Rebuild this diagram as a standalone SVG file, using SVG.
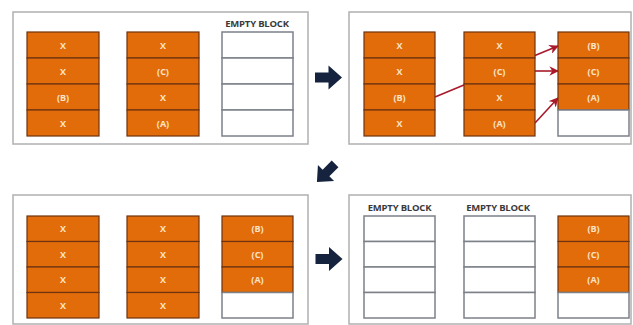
<svg xmlns="http://www.w3.org/2000/svg" width="633" height="325" viewBox="0 0 633 325">
<style>
.panel{fill:#fff;stroke:#b0b0b0;stroke-width:1.5}
.o{fill:#e36c0a;stroke:#6e3310;stroke-width:1.2}
.e{fill:#fff;stroke:#7c8088;stroke-width:1.5}
.t{font-family:"Open Sans","Liberation Sans",sans-serif;font-weight:bold;font-size:9px;fill:#fbe3c6;text-anchor:middle}
.lbl{font-family:"Open Sans","Liberation Sans",sans-serif;font-weight:bold;font-size:9.5px;fill:#3a3a3a;text-anchor:middle;letter-spacing:-0.2px}
.nav{fill:#15233f}
.red{stroke:#a8192a;stroke-width:1.6;fill:none;marker-end:url(#ah)}
</style>
<defs>
<marker id="ah" viewBox="0 0 10 10" refX="9" refY="5" markerWidth="6" markerHeight="6" orient="auto" markerUnits="strokeWidth">
<path d="M0,0 L10,5 L0,10 L3,5 z" fill="#a8192a"/>
</marker>
<polygon id="bigarrow" points="-13.5,-5 0,-5 0,-12 13.5,0 0,12 0,5 -13.5,5"/>
</defs>

<rect width="633" height="325" fill="#fff"/>

<!-- Panel 1 -->
<g id="panel1">
<rect class="panel" x="13" y="12" width="295" height="132"/>
<g id="p1c1">
<rect class="o" x="27" y="32" width="72" height="26"/><text class="t" x="63" y="48.5">X</text>
<rect class="o" x="27" y="58" width="72" height="26"/><text class="t" x="63" y="74.5">X</text>
<rect class="o" x="27" y="84" width="72" height="26"/><text class="t" x="63" y="100.5">(B)</text>
<rect class="o" x="27" y="110" width="72" height="26"/><text class="t" x="63" y="126.5">X</text>
</g>
<g id="p1c2">
<rect class="o" x="127" y="32" width="72" height="26"/><text class="t" x="163" y="48.5">X</text>
<rect class="o" x="127" y="58" width="72" height="26"/><text class="t" x="163" y="74.5">(C)</text>
<rect class="o" x="127" y="84" width="72" height="26"/><text class="t" x="163" y="100.5">X</text>
<rect class="o" x="127" y="110" width="72" height="26"/><text class="t" x="163" y="126.5">(A)</text>
</g>
<g id="p1c3">
<text class="lbl" x="257" y="27">EMPTY BLOCK</text>
<rect class="e" x="222" y="32" width="71" height="26"/>
<rect class="e" x="222" y="58" width="71" height="26"/>
<rect class="e" x="222" y="84" width="71" height="26"/>
<rect class="e" x="222" y="110" width="71" height="26"/>
</g>
</g>

<!-- Panel 2 -->
<g id="panel2">
<rect class="panel" x="349" y="12" width="282" height="132"/>
<g id="p2c1">
<rect class="o" x="364" y="32" width="71" height="26"/><text class="t" x="399.5" y="48.5">X</text>
<rect class="o" x="364" y="58" width="71" height="26"/><text class="t" x="399.5" y="74.5">X</text>
<rect class="o" x="364" y="84" width="71" height="26"/><text class="t" x="399.5" y="100.5">(B)</text>
<rect class="o" x="364" y="110" width="71" height="26"/><text class="t" x="399.5" y="126.5">X</text>
</g>
</g>

<g id="connectors">
<line class="red" x1="435" y1="97" x2="558" y2="46"/>
<line class="red" x1="535" y1="71" x2="558" y2="71"/>
<line class="red" x1="535" y1="123" x2="558" y2="98"/>
</g>

<g id="p2c2">
<rect class="o" x="464" y="32" width="71" height="26"/><text class="t" x="499.5" y="48.5">X</text>
<rect class="o" x="464" y="58" width="71" height="26"/><text class="t" x="499.5" y="74.5">(C)</text>
<rect class="o" x="464" y="84" width="71" height="26"/><text class="t" x="499.5" y="100.5">X</text>
<rect class="o" x="464" y="110" width="71" height="26"/><text class="t" x="499.5" y="126.5">(A)</text>
</g>
<g id="p2c3">
<rect class="o" x="558" y="32" width="71" height="26"/><text class="t" x="593.5" y="48.5">(B)</text>
<rect class="o" x="558" y="58" width="71" height="26"/><text class="t" x="593.5" y="74.5">(C)</text>
<rect class="o" x="558" y="84" width="71" height="26"/><text class="t" x="593.5" y="100.5">(A)</text>
<rect class="e" x="558" y="110" width="71" height="26"/>
</g>

<!-- Panel 3 -->
<g id="panel3">
<rect class="panel" x="13" y="195" width="295" height="129"/>
<g id="p3c1">
<rect class="o" x="27" y="216" width="72" height="25.5"/><text class="t" x="63" y="232">X</text>
<rect class="o" x="27" y="241.5" width="72" height="25.5"/><text class="t" x="63" y="257.5">X</text>
<rect class="o" x="27" y="267" width="72" height="25.5"/><text class="t" x="63" y="283">X</text>
<rect class="o" x="27" y="292.5" width="72" height="25.5"/><text class="t" x="63" y="308.5">X</text>
</g>
<g id="p3c2">
<rect class="o" x="127" y="216" width="72" height="25.5"/><text class="t" x="163" y="232">X</text>
<rect class="o" x="127" y="241.5" width="72" height="25.5"/><text class="t" x="163" y="257.5">X</text>
<rect class="o" x="127" y="267" width="72" height="25.5"/><text class="t" x="163" y="283">X</text>
<rect class="o" x="127" y="292.5" width="72" height="25.5"/><text class="t" x="163" y="308.5">X</text>
</g>
<g id="p3c3">
<rect class="o" x="222" y="216" width="71" height="25.5"/><text class="t" x="257.5" y="232">(B)</text>
<rect class="o" x="222" y="241.5" width="71" height="25.5"/><text class="t" x="257.5" y="257.5">(C)</text>
<rect class="o" x="222" y="267" width="71" height="25.5"/><text class="t" x="257.5" y="283">(A)</text>
<rect class="e" x="222" y="292.5" width="71" height="25.5"/>
</g>
</g>

<!-- Panel 4 -->
<g id="panel4">
<rect class="panel" x="349" y="195" width="282" height="129"/>
<g id="p4c1">
<text class="lbl" x="399.5" y="210.5">EMPTY BLOCK</text>
<rect class="e" x="364" y="216" width="71" height="25.5"/>
<rect class="e" x="364" y="241.5" width="71" height="25.5"/>
<rect class="e" x="364" y="267" width="71" height="25.5"/>
<rect class="e" x="364" y="292.5" width="71" height="25.5"/>
</g>
<g id="p4c2">
<text class="lbl" x="498" y="210.5">EMPTY BLOCK</text>
<rect class="e" x="464" y="216" width="71" height="25.5"/>
<rect class="e" x="464" y="241.5" width="71" height="25.5"/>
<rect class="e" x="464" y="267" width="71" height="25.5"/>
<rect class="e" x="464" y="292.5" width="71" height="25.5"/>
</g>
<g id="p4c3">
<rect class="o" x="558" y="216" width="71" height="25.5"/><text class="t" x="593.5" y="232">(B)</text>
<rect class="o" x="558" y="241.5" width="71" height="25.5"/><text class="t" x="593.5" y="257.5">(C)</text>
<rect class="o" x="558" y="267" width="71" height="25.5"/><text class="t" x="593.5" y="283">(A)</text>
<rect class="e" x="558" y="292.5" width="71" height="25.5"/>
</g>
</g>

<!-- Step arrows -->
<g id="step-arrows">
<use href="#bigarrow" class="nav" transform="translate(328.5,77.5)"/>
<use href="#bigarrow" class="nav" transform="translate(326,173) rotate(135) scale(0.95)"/>
<use href="#bigarrow" class="nav" transform="translate(329,259)"/>
</g>
</svg>
